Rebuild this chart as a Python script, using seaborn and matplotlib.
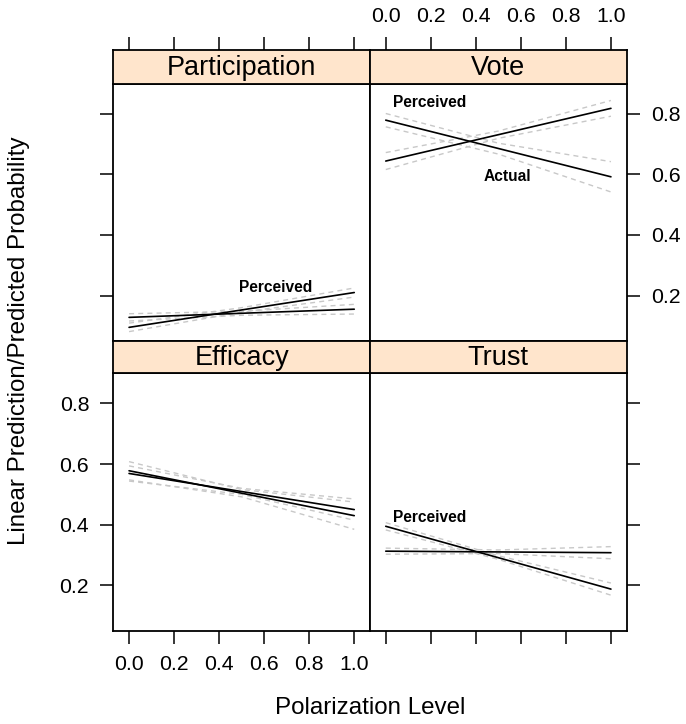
import matplotlib
matplotlib.use("Agg")
import matplotlib.pyplot as plt
import seaborn as sns
import pandas as pd

# ---------------- data ----------------
panels = ["Participation", "Vote", "Efficacy", "Trust"]
series = ["Perceived", "Actual"]
x_fit = [0.0, 1.0]
x_ci = [0.0, 0.5, 1.0]

# fitted lines (value at x=0, x=1)
fit_participation_perceived = [0.095, 0.210]
fit_participation_actual = [0.128, 0.155]
fit_vote_perceived = [0.779, 0.592]
fit_vote_actual = [0.644, 0.818]
fit_efficacy_perceived = [0.578, 0.430]
fit_efficacy_actual = [0.569, 0.450]
fit_trust_perceived = [0.395, 0.188]
fit_trust_actual = [0.313, 0.308]

# confidence bands (lower / upper at x = 0, 0.5, 1)
lo_participation_perceived = [0.081, 0.145, 0.195]
hi_participation_perceived = [0.109, 0.160, 0.225]
lo_participation_actual = [0.116, 0.135, 0.139]
hi_participation_actual = [0.140, 0.148, 0.171]
lo_vote_perceived = [0.757, 0.667, 0.542]
hi_vote_perceived = [0.801, 0.703, 0.642]
lo_vote_actual = [0.616, 0.719, 0.792]
hi_vote_actual = [0.672, 0.743, 0.844]
lo_efficacy_perceived = [0.548, 0.492, 0.385]
hi_efficacy_perceived = [0.608, 0.516, 0.475]
lo_efficacy_actual = [0.544, 0.500, 0.415]
hi_efficacy_actual = [0.594, 0.520, 0.485]
lo_trust_perceived = [0.383, 0.286, 0.168]
hi_trust_perceived = [0.407, 0.298, 0.208]
lo_trust_actual = [0.303, 0.305, 0.288]
hi_trust_actual = [0.323, 0.317, 0.328]

# direct labels: (panel, text, x, y)
label_panels = ["Participation", "Vote", "Vote", "Trust"]
label_texts = ["Perceived", "Perceived", "Actual", "Perceived"]
label_x = [0.652, 0.194, 0.540, 0.194]
label_y = [0.226, 0.838, 0.592, 0.425]

x_ticks = [0.0, 0.2, 0.4, 0.6, 0.8, 1.0]
x_ticklabels = ["0.0", "0.2", "0.4", "0.6", "0.8", "1.0"]
y_ticks = [0.2, 0.4, 0.6, 0.8]
y_ticklabels = ["0.2", "0.4", "0.6", "0.8"]

fits = {
    ("Participation", "Perceived"): (fit_participation_perceived, lo_participation_perceived, hi_participation_perceived),
    ("Participation", "Actual"): (fit_participation_actual, lo_participation_actual, hi_participation_actual),
    ("Vote", "Perceived"): (fit_vote_perceived, lo_vote_perceived, hi_vote_perceived),
    ("Vote", "Actual"): (fit_vote_actual, lo_vote_actual, hi_vote_actual),
    ("Efficacy", "Perceived"): (fit_efficacy_perceived, lo_efficacy_perceived, hi_efficacy_perceived),
    ("Efficacy", "Actual"): (fit_efficacy_actual, lo_efficacy_actual, hi_efficacy_actual),
    ("Trust", "Perceived"): (fit_trust_perceived, lo_trust_perceived, hi_trust_perceived),
    ("Trust", "Actual"): (fit_trust_actual, lo_trust_actual, hi_trust_actual),
}

rows_fit, rows_ci = [], []
for (p, s), (f, lo, hi) in fits.items():
    for xv, yv in zip(x_fit, f):
        rows_fit.append(dict(panel=p, series=s, x=xv, y=yv))
    for xv, yv in zip(x_ci, lo):
        rows_ci.append(dict(panel=p, series=s, bound="lo", x=xv, y=yv))
    for xv, yv in zip(x_ci, hi):
        rows_ci.append(dict(panel=p, series=s, bound="hi", x=xv, y=yv))
df_fit = pd.DataFrame(rows_fit)
df_ci = pd.DataFrame(rows_ci)

# ---------------- style ----------------
sns.set_style("white")
plt.rcParams["font.family"] = ["Liberation Sans", "DejaVu Sans"]
plt.rcParams["axes.linewidth"] = 1.3
plt.rcParams["axes.edgecolor"] = "black"
plt.rcParams["text.color"] = "black"
plt.rcParams["axes.labelcolor"] = "black"
plt.rcParams["xtick.color"] = "black"
plt.rcParams["ytick.color"] = "black"

W, H = 686, 724
fig = plt.figure(figsize=(W / 100, H / 100), dpi=100)

def fx(px):
    return px / W

def fy(px):
    return 1 - px / H

pl_left = [113.3, 370.0]
pl_right = [370.0, 626.7]
panel_rows = [(83.5, 341.0), (373.0, 631.0)]
strip_rows = [(50.0, 83.5), (341.0, 373.0)]
XLIM = (-0.07, 1.07)
YLIM = (0.050, 0.900)
STRIP_BG = "#ffe5cc"
TICK_LEN = 9.4
TICK_FS = 15.3
TICK_W = 1.1
PAD = 8

layout = {"Participation": (0, 0), "Vote": (0, 1), "Efficacy": (1, 0), "Trust": (1, 1)}

for p, (r, c) in layout.items():
    top, bot = panel_rows[r]
    ax = fig.add_axes([fx(pl_left[c]), fy(bot), fx(pl_right[c] - pl_left[c]), (bot - top) / H])
    sax = fig.add_axes([fx(pl_left[c]), fy(strip_rows[r][1]),
                        fx(pl_right[c] - pl_left[c]), (strip_rows[r][1] - strip_rows[r][0]) / H])

    sub_ci = df_ci[df_ci.panel == p]
    for (s, b), g in sub_ci.groupby(["series", "bound"]):
        sns.lineplot(data=g, x="x", y="y", ax=ax, color="#c8c8c8", lw=1.0,
                     linestyle=(0, (3.6, 3.0)), estimator=None, sort=False)
    sub_fit = df_fit[df_fit.panel == p]
    for s, g in sub_fit.groupby("series"):
        sns.lineplot(data=g, x="x", y="y", ax=ax, color="black", lw=1.2,
                     estimator=None, sort=False)

    for lp, lt, lx, ly in zip(label_panels, label_texts, label_x, label_y):
        if lp == p:
            ax.text(lx, ly, lt, ha="center", va="center", fontsize=11.2,
                    fontweight="bold", color="black")

    ax.set_xlim(*XLIM)
    ax.set_ylim(*YLIM)
    ax.set_xlabel("")
    ax.set_ylabel("")
    ax.set_xticks(x_ticks)
    ax.set_yticks(y_ticks)
    ax.tick_params(direction="out", length=TICK_LEN, width=TICK_W, labelsize=TICK_FS,
                   colors="black", pad=PAD)
    if r == 1:
        ax.tick_params(axis="x", bottom=True, top=False, labelbottom=(c == 0), labeltop=False)
        ax.set_xticklabels(x_ticklabels)
    else:
        ax.tick_params(axis="x", bottom=False, top=False, labelbottom=False, labeltop=False)
    if c == 0:
        ax.tick_params(axis="y", left=True, right=False, labelleft=(r == 1), labelright=False)
    else:
        ax.tick_params(axis="y", left=False, right=True, labelleft=False, labelright=(r == 0))
    ax.set_yticklabels(y_ticklabels)
    for sp in ax.spines.values():
        sp.set_linewidth(1.3)

    # strip
    sax.set_facecolor(STRIP_BG)
    sax.set_xlim(*XLIM)
    sax.set_ylim(0, 1)
    sax.set_yticks([])
    sax.text(0.5, 0.47, p, transform=sax.transAxes, ha="center", va="center",
             fontsize=19.5, color="black")
    if r == 0:
        sax.set_xticks(x_ticks)
        sax.set_xticklabels(x_ticklabels)
        sax.tick_params(axis="x", direction="out", length=TICK_LEN, width=TICK_W,
                        labelsize=TICK_FS, bottom=False, top=True, colors="black",
                        labelbottom=False, labeltop=(c == 1), pad=PAD)
    else:
        sax.set_xticks([])
    for sp in sax.spines.values():
        sp.set_linewidth(1.3)

fig.text(fx(19), fy(340.5), "Linear Prediction/Predicted Probability", rotation=90,
         ha="center", va="center", fontsize=17.4, color="black")
fig.text(fx(370), fy(708), "Polarization Level", ha="center", va="center",
         fontsize=17.4, color="black")

fig.savefig("out.png", dpi=100, facecolor="white")
